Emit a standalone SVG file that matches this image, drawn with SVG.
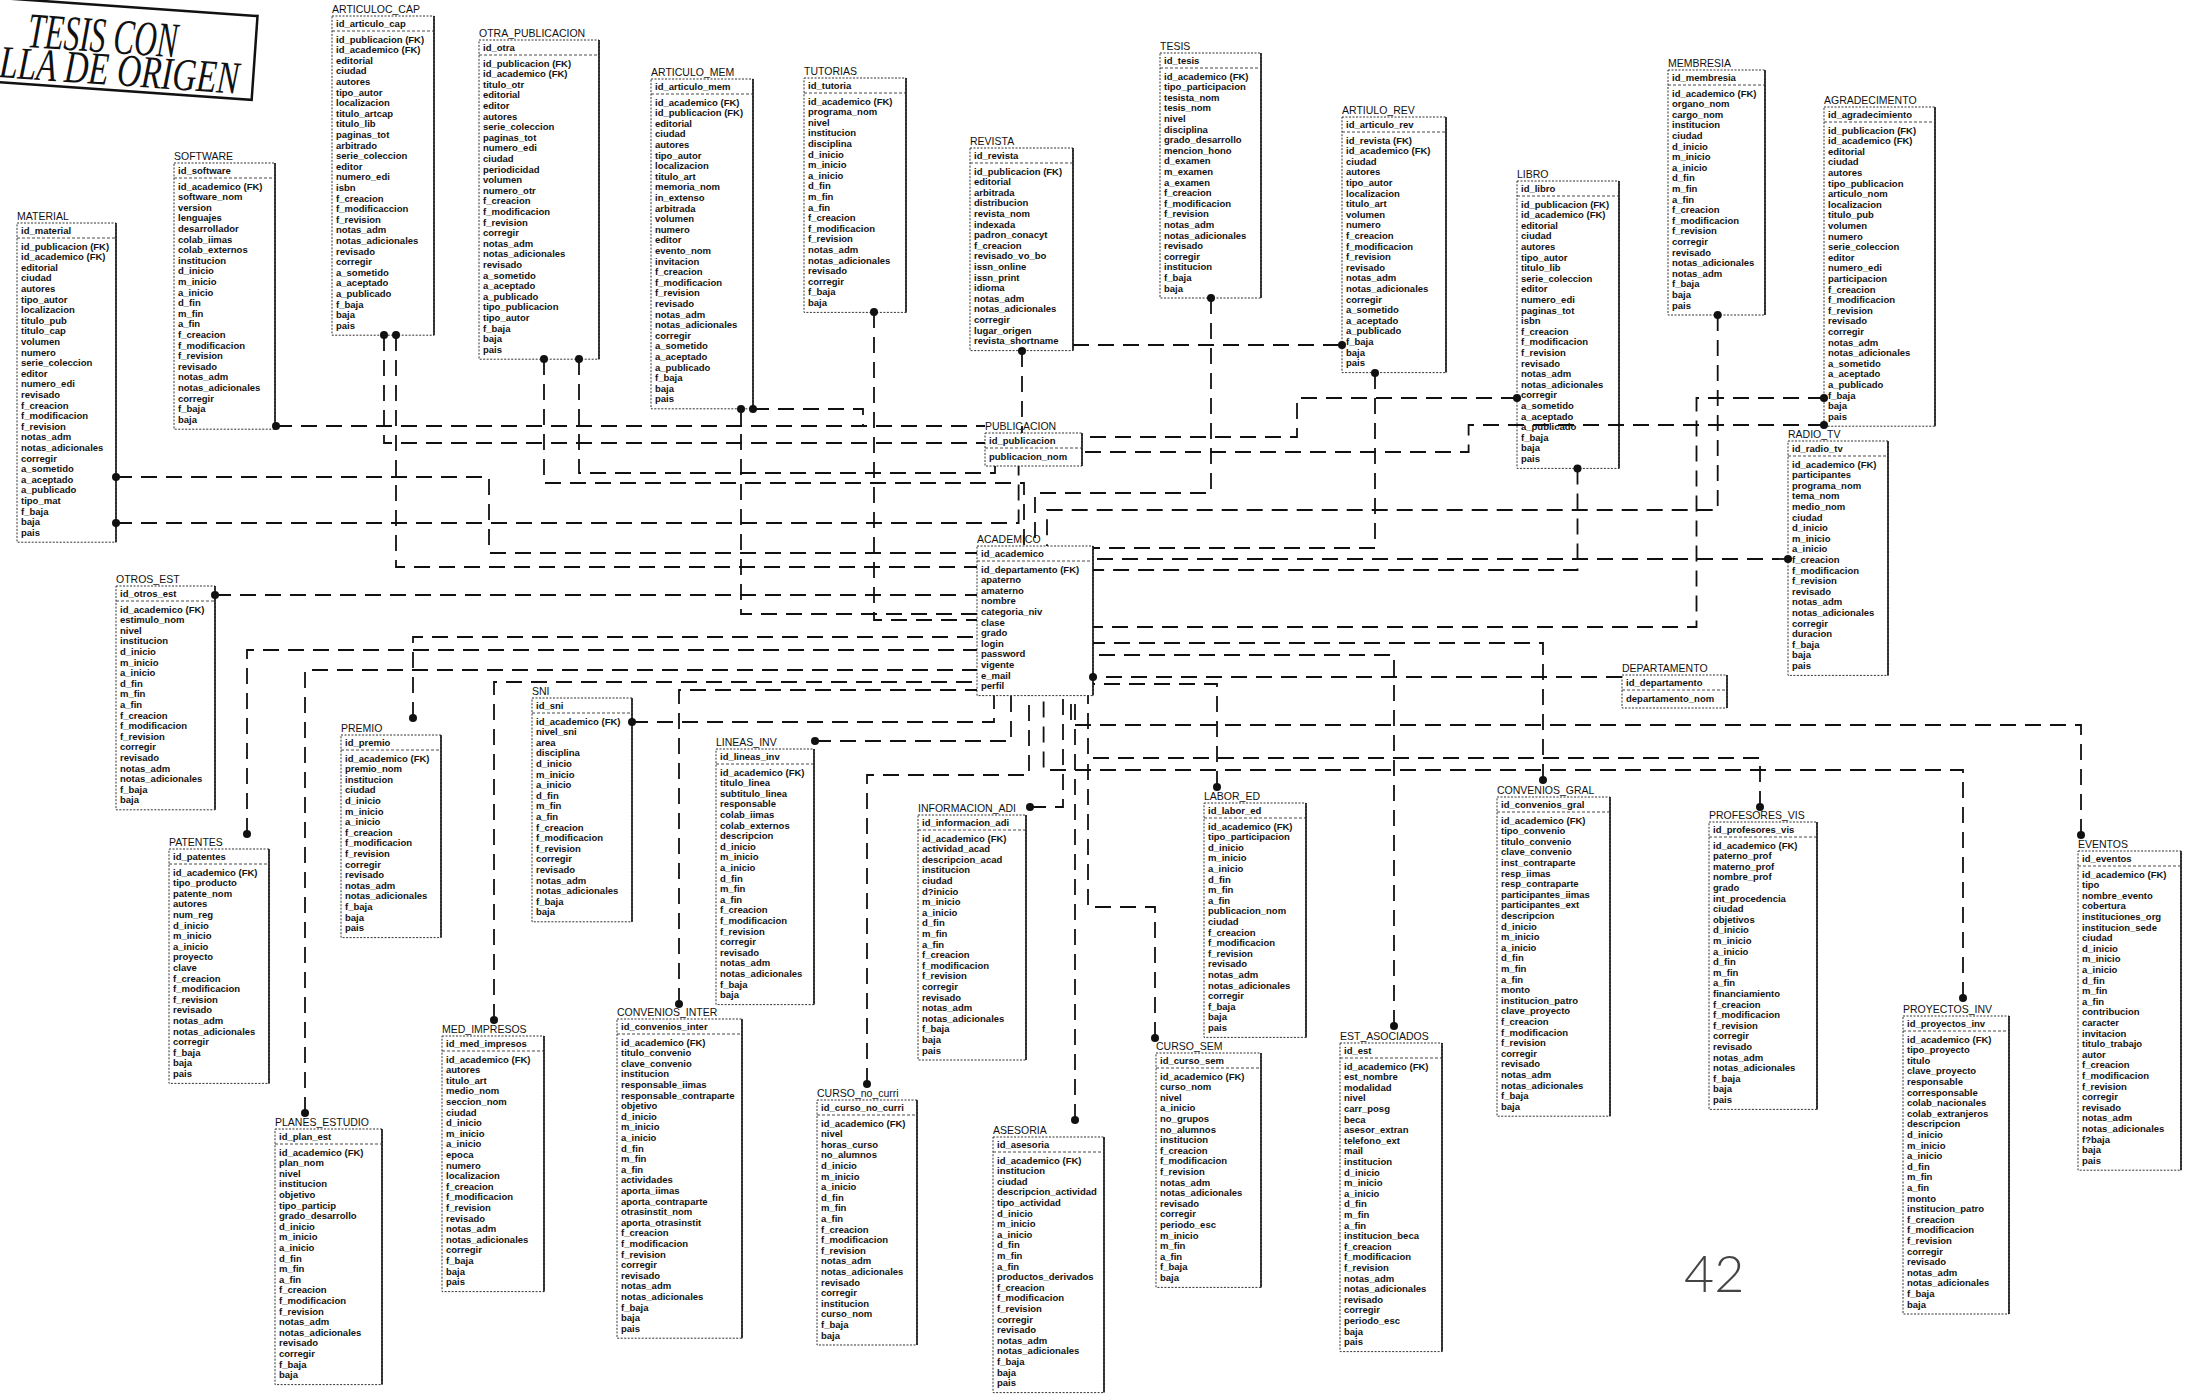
<svg xmlns="http://www.w3.org/2000/svg" width="2194" height="1399" viewBox="0 0 2194 1399">
<style>
.t{font:10.5px "Liberation Sans",Arial,sans-serif;fill:#111}
.k,.a{font:bold 9.5px "Liberation Sans",Arial,sans-serif;fill:#111}
.bx{fill:#fff;stroke:#333;stroke-width:1;stroke-dasharray:2 1.5}
.rb{stroke:#111;stroke-width:1.6;fill:none}
.sp{stroke:#333;stroke-width:0.9;stroke-dasharray:3 2;fill:none}
.c{fill:none;stroke:#111;stroke-width:1.8;stroke-dasharray:16 9}
.d{fill:#111}
.st{font-family:"Liberation Serif","Times New Roman",serif;font-style:italic;fill:#111}
</style>
<rect width="2194" height="1399" fill="#fff"/>
<g id="stamp" transform="rotate(4)">
<polygon points="-12,-2 258,-2 258,82 -12,82" fill="none" stroke="#111" stroke-width="2.5"/>
<text class="st" x="30" y="45" font-size="50" textLength="150" lengthAdjust="spacingAndGlyphs">TESIS CON</text>
<text class="st" x="4" y="77" font-size="46" textLength="240" lengthAdjust="spacingAndGlyphs">LLA DE ORIGEN</text>
</g>
<g id="nodes">
<g id="MATERIAL" transform="translate(17,223)"><rect class="bx" width="99" height="319.2"/><path class="rb" d="M99 0V319.2"/><path class="sp" d="M0 15H99"/><text class="t" y="-3">MATERIAL</text><text class="k" x="4" y="11">id_material</text><text class="a" x="4" y="26.5">id_publicacion (FK)<tspan x="4" dy="10.6">id_academico (FK)</tspan><tspan x="4" dy="10.6">editorial</tspan><tspan x="4" dy="10.6">ciudad</tspan><tspan x="4" dy="10.6">autores</tspan><tspan x="4" dy="10.6">tipo_autor</tspan><tspan x="4" dy="10.6">localizacion</tspan><tspan x="4" dy="10.6">titulo_pub</tspan><tspan x="4" dy="10.6">titulo_cap</tspan><tspan x="4" dy="10.6">volumen</tspan><tspan x="4" dy="10.6">numero</tspan><tspan x="4" dy="10.6">serie_coleccion</tspan><tspan x="4" dy="10.6">editor</tspan><tspan x="4" dy="10.6">numero_edi</tspan><tspan x="4" dy="10.6">revisado</tspan><tspan x="4" dy="10.6">f_creacion</tspan><tspan x="4" dy="10.6">f_modificacion</tspan><tspan x="4" dy="10.6">f_revision</tspan><tspan x="4" dy="10.6">notas_adm</tspan><tspan x="4" dy="10.6">notas_adicionales</tspan><tspan x="4" dy="10.6">corregir</tspan><tspan x="4" dy="10.6">a_sometido</tspan><tspan x="4" dy="10.6">a_aceptado</tspan><tspan x="4" dy="10.6">a_publicado</tspan><tspan x="4" dy="10.6">tipo_mat</tspan><tspan x="4" dy="10.6">f_baja</tspan><tspan x="4" dy="10.6">baja</tspan><tspan x="4" dy="10.6">pais</tspan></text></g>
<g id="SOFTWARE" transform="translate(174,163)"><rect class="bx" width="101" height="266.2"/><path class="rb" d="M101 0V266.2"/><path class="sp" d="M0 15H101"/><text class="t" y="-3">SOFTWARE</text><text class="k" x="4" y="11">id_software</text><text class="a" x="4" y="26.5">id_academico (FK)<tspan x="4" dy="10.6">software_nom</tspan><tspan x="4" dy="10.6">version</tspan><tspan x="4" dy="10.6">lenguajes</tspan><tspan x="4" dy="10.6">desarrollador</tspan><tspan x="4" dy="10.6">colab_iimas</tspan><tspan x="4" dy="10.6">colab_externos</tspan><tspan x="4" dy="10.6">institucion</tspan><tspan x="4" dy="10.6">d_inicio</tspan><tspan x="4" dy="10.6">m_inicio</tspan><tspan x="4" dy="10.6">a_inicio</tspan><tspan x="4" dy="10.6">d_fin</tspan><tspan x="4" dy="10.6">m_fin</tspan><tspan x="4" dy="10.6">a_fin</tspan><tspan x="4" dy="10.6">f_creacion</tspan><tspan x="4" dy="10.6">f_modificacion</tspan><tspan x="4" dy="10.6">f_revision</tspan><tspan x="4" dy="10.6">revisado</tspan><tspan x="4" dy="10.6">notas_adm</tspan><tspan x="4" dy="10.6">notas_adicionales</tspan><tspan x="4" dy="10.6">corregir</tspan><tspan x="4" dy="10.6">f_baja</tspan><tspan x="4" dy="10.6">baja</tspan></text></g>
<g id="ARTICULOC_CAP" transform="translate(332,16)"><rect class="bx" width="102" height="319.2"/><path class="rb" d="M102 0V319.2"/><path class="sp" d="M0 15H102"/><text class="t" y="-3">ARTICULOC_CAP</text><text class="k" x="4" y="11">id_articulo_cap</text><text class="a" x="4" y="26.5">id_publicacion (FK)<tspan x="4" dy="10.6">id_academico (FK)</tspan><tspan x="4" dy="10.6">editorial</tspan><tspan x="4" dy="10.6">ciudad</tspan><tspan x="4" dy="10.6">autores</tspan><tspan x="4" dy="10.6">tipo_autor</tspan><tspan x="4" dy="10.6">localizacion</tspan><tspan x="4" dy="10.6">titulo_artcap</tspan><tspan x="4" dy="10.6">titulo_lib</tspan><tspan x="4" dy="10.6">paginas_tot</tspan><tspan x="4" dy="10.6">arbitrado</tspan><tspan x="4" dy="10.6">serie_coleccion</tspan><tspan x="4" dy="10.6">editor</tspan><tspan x="4" dy="10.6">numero_edi</tspan><tspan x="4" dy="10.6">isbn</tspan><tspan x="4" dy="10.6">f_creacion</tspan><tspan x="4" dy="10.6">f_modificaccion</tspan><tspan x="4" dy="10.6">f_revision</tspan><tspan x="4" dy="10.6">notas_adm</tspan><tspan x="4" dy="10.6">notas_adicionales</tspan><tspan x="4" dy="10.6">revisado</tspan><tspan x="4" dy="10.6">corregir</tspan><tspan x="4" dy="10.6">a_sometido</tspan><tspan x="4" dy="10.6">a_aceptado</tspan><tspan x="4" dy="10.6">a_publicado</tspan><tspan x="4" dy="10.6">f_baja</tspan><tspan x="4" dy="10.6">baja</tspan><tspan x="4" dy="10.6">pais</tspan></text></g>
<g id="OTRA_PUBLICACION" transform="translate(479,40)"><rect class="bx" width="120" height="319.2"/><path class="rb" d="M120 0V319.2"/><path class="sp" d="M0 15H120"/><text class="t" y="-3">OTRA_PUBLICACION</text><text class="k" x="4" y="11">id_otra</text><text class="a" x="4" y="26.5">id_publicacion (FK)<tspan x="4" dy="10.6">id_academico (FK)</tspan><tspan x="4" dy="10.6">titulo_otr</tspan><tspan x="4" dy="10.6">editorial</tspan><tspan x="4" dy="10.6">editor</tspan><tspan x="4" dy="10.6">autores</tspan><tspan x="4" dy="10.6">serie_coleccion</tspan><tspan x="4" dy="10.6">paginas_tot</tspan><tspan x="4" dy="10.6">numero_edi</tspan><tspan x="4" dy="10.6">ciudad</tspan><tspan x="4" dy="10.6">periodicidad</tspan><tspan x="4" dy="10.6">volumen</tspan><tspan x="4" dy="10.6">numero_otr</tspan><tspan x="4" dy="10.6">f_creacion</tspan><tspan x="4" dy="10.6">f_modificacion</tspan><tspan x="4" dy="10.6">f_revision</tspan><tspan x="4" dy="10.6">corregir</tspan><tspan x="4" dy="10.6">notas_adm</tspan><tspan x="4" dy="10.6">notas_adicionales</tspan><tspan x="4" dy="10.6">revisado</tspan><tspan x="4" dy="10.6">a_sometido</tspan><tspan x="4" dy="10.6">a_aceptado</tspan><tspan x="4" dy="10.6">a_publicado</tspan><tspan x="4" dy="10.6">tipo_publicacion</tspan><tspan x="4" dy="10.6">tipo_autor</tspan><tspan x="4" dy="10.6">f_baja</tspan><tspan x="4" dy="10.6">baja</tspan><tspan x="4" dy="10.6">pais</tspan></text></g>
<g id="ARTICULO_MEM" transform="translate(651,79)"><rect class="bx" width="102" height="329.8"/><path class="rb" d="M102 0V329.8"/><path class="sp" d="M0 15H102"/><text class="t" y="-3">ARTICULO_MEM</text><text class="k" x="4" y="11">id_articulo_mem</text><text class="a" x="4" y="26.5">id_academico (FK)<tspan x="4" dy="10.6">id_publicacion (FK)</tspan><tspan x="4" dy="10.6">editorial</tspan><tspan x="4" dy="10.6">ciudad</tspan><tspan x="4" dy="10.6">autores</tspan><tspan x="4" dy="10.6">tipo_autor</tspan><tspan x="4" dy="10.6">localizacion</tspan><tspan x="4" dy="10.6">titulo_art</tspan><tspan x="4" dy="10.6">memoria_nom</tspan><tspan x="4" dy="10.6">in_extenso</tspan><tspan x="4" dy="10.6">arbitrada</tspan><tspan x="4" dy="10.6">volumen</tspan><tspan x="4" dy="10.6">numero</tspan><tspan x="4" dy="10.6">editor</tspan><tspan x="4" dy="10.6">evento_nom</tspan><tspan x="4" dy="10.6">invitacion</tspan><tspan x="4" dy="10.6">f_creacion</tspan><tspan x="4" dy="10.6">f_modificacion</tspan><tspan x="4" dy="10.6">f_revision</tspan><tspan x="4" dy="10.6">revisado</tspan><tspan x="4" dy="10.6">notas_adm</tspan><tspan x="4" dy="10.6">notas_adicionales</tspan><tspan x="4" dy="10.6">corregir</tspan><tspan x="4" dy="10.6">a_sometido</tspan><tspan x="4" dy="10.6">a_aceptado</tspan><tspan x="4" dy="10.6">a_publicado</tspan><tspan x="4" dy="10.6">f_baja</tspan><tspan x="4" dy="10.6">baja</tspan><tspan x="4" dy="10.6">pais</tspan></text></g>
<g id="TUTORIAS" transform="translate(804,78)"><rect class="bx" width="102" height="234.4"/><path class="rb" d="M102 0V234.4"/><path class="sp" d="M0 15H102"/><text class="t" y="-3">TUTORIAS</text><text class="k" x="4" y="11">id_tutoria</text><text class="a" x="4" y="26.5">id_academico (FK)<tspan x="4" dy="10.6">programa_nom</tspan><tspan x="4" dy="10.6">nivel</tspan><tspan x="4" dy="10.6">institucion</tspan><tspan x="4" dy="10.6">disciplina</tspan><tspan x="4" dy="10.6">d_inicio</tspan><tspan x="4" dy="10.6">m_inicio</tspan><tspan x="4" dy="10.6">a_inicio</tspan><tspan x="4" dy="10.6">d_fin</tspan><tspan x="4" dy="10.6">m_fin</tspan><tspan x="4" dy="10.6">a_fin</tspan><tspan x="4" dy="10.6">f_creacion</tspan><tspan x="4" dy="10.6">f_modificacion</tspan><tspan x="4" dy="10.6">f_revision</tspan><tspan x="4" dy="10.6">notas_adm</tspan><tspan x="4" dy="10.6">notas_adicionales</tspan><tspan x="4" dy="10.6">revisado</tspan><tspan x="4" dy="10.6">corregir</tspan><tspan x="4" dy="10.6">f_baja</tspan><tspan x="4" dy="10.6">baja</tspan></text></g>
<g id="REVISTA" transform="translate(970,148)"><rect class="bx" width="103" height="202.6"/><path class="rb" d="M103 0V202.6"/><path class="sp" d="M0 15H103"/><text class="t" y="-3">REVISTA</text><text class="k" x="4" y="11">id_revista</text><text class="a" x="4" y="26.5">id_publicacion (FK)<tspan x="4" dy="10.6">editorial</tspan><tspan x="4" dy="10.6">arbitrada</tspan><tspan x="4" dy="10.6">distribucion</tspan><tspan x="4" dy="10.6">revista_nom</tspan><tspan x="4" dy="10.6">indexada</tspan><tspan x="4" dy="10.6">padron_conacyt</tspan><tspan x="4" dy="10.6">f_creacion</tspan><tspan x="4" dy="10.6">revisado_vo_bo</tspan><tspan x="4" dy="10.6">issn_online</tspan><tspan x="4" dy="10.6">issn_print</tspan><tspan x="4" dy="10.6">idioma</tspan><tspan x="4" dy="10.6">notas_adm</tspan><tspan x="4" dy="10.6">notas_adicionales</tspan><tspan x="4" dy="10.6">corregir</tspan><tspan x="4" dy="10.6">lugar_origen</tspan><tspan x="4" dy="10.6">revista_shortname</tspan></text></g>
<g id="PUBLICACION" transform="translate(985,433)"><rect class="bx" width="97" height="33"/><path class="rb" d="M97 0V33"/><path class="sp" d="M0 15H97"/><text class="t" y="-3">PUBLICACION</text><text class="k" x="4" y="11">id_publicacion</text><text class="a" x="4" y="26.5">publicacion_nom</text></g>
<g id="TESIS" transform="translate(1160,53)"><rect class="bx" width="101" height="245"/><path class="rb" d="M101 0V245"/><path class="sp" d="M0 15H101"/><text class="t" y="-3">TESIS</text><text class="k" x="4" y="11">id_tesis</text><text class="a" x="4" y="26.5">id_academico (FK)<tspan x="4" dy="10.6">tipo_participacion</tspan><tspan x="4" dy="10.6">tesista_nom</tspan><tspan x="4" dy="10.6">tesis_nom</tspan><tspan x="4" dy="10.6">nivel</tspan><tspan x="4" dy="10.6">disciplina</tspan><tspan x="4" dy="10.6">grado_desarrollo</tspan><tspan x="4" dy="10.6">mencion_hono</tspan><tspan x="4" dy="10.6">d_examen</tspan><tspan x="4" dy="10.6">m_examen</tspan><tspan x="4" dy="10.6">a_examen</tspan><tspan x="4" dy="10.6">f_creacion</tspan><tspan x="4" dy="10.6">f_modificacion</tspan><tspan x="4" dy="10.6">f_revision</tspan><tspan x="4" dy="10.6">notas_adm</tspan><tspan x="4" dy="10.6">notas_adicionales</tspan><tspan x="4" dy="10.6">revisado</tspan><tspan x="4" dy="10.6">corregir</tspan><tspan x="4" dy="10.6">institucion</tspan><tspan x="4" dy="10.6">f_baja</tspan><tspan x="4" dy="10.6">baja</tspan></text></g>
<g id="ARTIULO_REV" transform="translate(1342,117)"><rect class="bx" width="104" height="255.6"/><path class="rb" d="M104 0V255.6"/><path class="sp" d="M0 15H104"/><text class="t" y="-3">ARTIULO_REV</text><text class="k" x="4" y="11">id_articulo_rev</text><text class="a" x="4" y="26.5">id_revista (FK)<tspan x="4" dy="10.6">id_academico (FK)</tspan><tspan x="4" dy="10.6">ciudad</tspan><tspan x="4" dy="10.6">autores</tspan><tspan x="4" dy="10.6">tipo_autor</tspan><tspan x="4" dy="10.6">localizacion</tspan><tspan x="4" dy="10.6">titulo_art</tspan><tspan x="4" dy="10.6">volumen</tspan><tspan x="4" dy="10.6">numero</tspan><tspan x="4" dy="10.6">f_creacion</tspan><tspan x="4" dy="10.6">f_modificacion</tspan><tspan x="4" dy="10.6">f_revision</tspan><tspan x="4" dy="10.6">revisado</tspan><tspan x="4" dy="10.6">notas_adm</tspan><tspan x="4" dy="10.6">notas_adicionales</tspan><tspan x="4" dy="10.6">corregir</tspan><tspan x="4" dy="10.6">a_sometido</tspan><tspan x="4" dy="10.6">a_aceptado</tspan><tspan x="4" dy="10.6">a_publicado</tspan><tspan x="4" dy="10.6">f_baja</tspan><tspan x="4" dy="10.6">baja</tspan><tspan x="4" dy="10.6">pais</tspan></text></g>
<g id="LIBRO" transform="translate(1517,181)"><rect class="bx" width="102" height="287.4"/><path class="rb" d="M102 0V287.4"/><path class="sp" d="M0 15H102"/><text class="t" y="-3">LIBRO</text><text class="k" x="4" y="11">id_libro</text><text class="a" x="4" y="26.5">id_publicacion (FK)<tspan x="4" dy="10.6">id_academico (FK)</tspan><tspan x="4" dy="10.6">editorial</tspan><tspan x="4" dy="10.6">ciudad</tspan><tspan x="4" dy="10.6">autores</tspan><tspan x="4" dy="10.6">tipo_autor</tspan><tspan x="4" dy="10.6">titulo_lib</tspan><tspan x="4" dy="10.6">serie_coleccion</tspan><tspan x="4" dy="10.6">editor</tspan><tspan x="4" dy="10.6">numero_edi</tspan><tspan x="4" dy="10.6">paginas_tot</tspan><tspan x="4" dy="10.6">isbn</tspan><tspan x="4" dy="10.6">f_creacion</tspan><tspan x="4" dy="10.6">f_modificacion</tspan><tspan x="4" dy="10.6">f_revision</tspan><tspan x="4" dy="10.6">revisado</tspan><tspan x="4" dy="10.6">notas_adm</tspan><tspan x="4" dy="10.6">notas_adicionales</tspan><tspan x="4" dy="10.6">corregir</tspan><tspan x="4" dy="10.6">a_sometido</tspan><tspan x="4" dy="10.6">a_aceptado</tspan><tspan x="4" dy="10.6">a_publicado</tspan><tspan x="4" dy="10.6">f_baja</tspan><tspan x="4" dy="10.6">baja</tspan><tspan x="4" dy="10.6">pais</tspan></text></g>
<g id="MEMBRESIA" transform="translate(1668,70)"><rect class="bx" width="97" height="245"/><path class="rb" d="M97 0V245"/><path class="sp" d="M0 15H97"/><text class="t" y="-3">MEMBRESIA</text><text class="k" x="4" y="11">id_membresia</text><text class="a" x="4" y="26.5">id_academico (FK)<tspan x="4" dy="10.6">organo_nom</tspan><tspan x="4" dy="10.6">cargo_nom</tspan><tspan x="4" dy="10.6">institucion</tspan><tspan x="4" dy="10.6">ciudad</tspan><tspan x="4" dy="10.6">d_inicio</tspan><tspan x="4" dy="10.6">m_inicio</tspan><tspan x="4" dy="10.6">a_inicio</tspan><tspan x="4" dy="10.6">d_fin</tspan><tspan x="4" dy="10.6">m_fin</tspan><tspan x="4" dy="10.6">a_fin</tspan><tspan x="4" dy="10.6">f_creacion</tspan><tspan x="4" dy="10.6">f_modificacion</tspan><tspan x="4" dy="10.6">f_revision</tspan><tspan x="4" dy="10.6">corregir</tspan><tspan x="4" dy="10.6">revisado</tspan><tspan x="4" dy="10.6">notas_adicionales</tspan><tspan x="4" dy="10.6">notas_adm</tspan><tspan x="4" dy="10.6">f_baja</tspan><tspan x="4" dy="10.6">baja</tspan><tspan x="4" dy="10.6">pais</tspan></text></g>
<g id="AGRADECIMENTO" transform="translate(1824,107)"><rect class="bx" width="111" height="319.2"/><path class="rb" d="M111 0V319.2"/><path class="sp" d="M0 15H111"/><text class="t" y="-3">AGRADECIMENTO</text><text class="k" x="4" y="11">id_agradecimiento</text><text class="a" x="4" y="26.5">id_publicacion (FK)<tspan x="4" dy="10.6">id_academico (FK)</tspan><tspan x="4" dy="10.6">editorial</tspan><tspan x="4" dy="10.6">ciudad</tspan><tspan x="4" dy="10.6">autores</tspan><tspan x="4" dy="10.6">tipo_publicacion</tspan><tspan x="4" dy="10.6">articulo_nom</tspan><tspan x="4" dy="10.6">localizacion</tspan><tspan x="4" dy="10.6">titulo_pub</tspan><tspan x="4" dy="10.6">volumen</tspan><tspan x="4" dy="10.6">numero</tspan><tspan x="4" dy="10.6">serie_coleccion</tspan><tspan x="4" dy="10.6">editor</tspan><tspan x="4" dy="10.6">numero_edi</tspan><tspan x="4" dy="10.6">participacion</tspan><tspan x="4" dy="10.6">f_creacion</tspan><tspan x="4" dy="10.6">f_modificacion</tspan><tspan x="4" dy="10.6">f_revision</tspan><tspan x="4" dy="10.6">revisado</tspan><tspan x="4" dy="10.6">corregir</tspan><tspan x="4" dy="10.6">notas_adm</tspan><tspan x="4" dy="10.6">notas_adicionales</tspan><tspan x="4" dy="10.6">a_sometido</tspan><tspan x="4" dy="10.6">a_aceptado</tspan><tspan x="4" dy="10.6">a_publicado</tspan><tspan x="4" dy="10.6">f_baja</tspan><tspan x="4" dy="10.6">baja</tspan><tspan x="4" dy="10.6">pais</tspan></text></g>
<g id="RADIO_TV" transform="translate(1788,441)"><rect class="bx" width="100" height="234.4"/><path class="rb" d="M100 0V234.4"/><path class="sp" d="M0 15H100"/><text class="t" y="-3">RADIO_TV</text><text class="k" x="4" y="11">id_radio_tv</text><text class="a" x="4" y="26.5">id_academico (FK)<tspan x="4" dy="10.6">participantes</tspan><tspan x="4" dy="10.6">programa_nom</tspan><tspan x="4" dy="10.6">tema_nom</tspan><tspan x="4" dy="10.6">medio_nom</tspan><tspan x="4" dy="10.6">ciudad</tspan><tspan x="4" dy="10.6">d_inicio</tspan><tspan x="4" dy="10.6">m_inicio</tspan><tspan x="4" dy="10.6">a_inicio</tspan><tspan x="4" dy="10.6">f_creacion</tspan><tspan x="4" dy="10.6">f_modificacion</tspan><tspan x="4" dy="10.6">f_revision</tspan><tspan x="4" dy="10.6">revisado</tspan><tspan x="4" dy="10.6">notas_adm</tspan><tspan x="4" dy="10.6">notas_adicionales</tspan><tspan x="4" dy="10.6">corregir</tspan><tspan x="4" dy="10.6">duracion</tspan><tspan x="4" dy="10.6">f_baja</tspan><tspan x="4" dy="10.6">baja</tspan><tspan x="4" dy="10.6">pais</tspan></text></g>
<g id="ACADEMICO" transform="translate(977,546)"><rect class="bx" width="116" height="149.6"/><path class="rb" d="M116 0V149.6"/><path class="sp" d="M0 15H116"/><text class="t" y="-3">ACADEMICO</text><text class="k" x="4" y="11">id_academico</text><text class="a" x="4" y="26.5">id_departamento (FK)<tspan x="4" dy="10.6">apaterno</tspan><tspan x="4" dy="10.6">amaterno</tspan><tspan x="4" dy="10.6">nombre</tspan><tspan x="4" dy="10.6">categoria_niv</tspan><tspan x="4" dy="10.6">clase</tspan><tspan x="4" dy="10.6">grado</tspan><tspan x="4" dy="10.6">login</tspan><tspan x="4" dy="10.6">password</tspan><tspan x="4" dy="10.6">vigente</tspan><tspan x="4" dy="10.6">e_mail</tspan><tspan x="4" dy="10.6">perfil</tspan></text></g>
<g id="DEPARTAMENTO" transform="translate(1622,675)"><rect class="bx" width="105" height="33"/><path class="rb" d="M105 0V33"/><path class="sp" d="M0 15H105"/><text class="t" y="-3">DEPARTAMENTO</text><text class="k" x="4" y="11">id_departamento</text><text class="a" x="4" y="26.5">departamento_nom</text></g>
<g id="OTROS_EST" transform="translate(116,586)"><rect class="bx" width="99" height="223.8"/><path class="rb" d="M99 0V223.8"/><path class="sp" d="M0 15H99"/><text class="t" y="-3">OTROS_EST</text><text class="k" x="4" y="11">id_otros_est</text><text class="a" x="4" y="26.5">id_academico (FK)<tspan x="4" dy="10.6">estimulo_nom</tspan><tspan x="4" dy="10.6">nivel</tspan><tspan x="4" dy="10.6">institucion</tspan><tspan x="4" dy="10.6">d_inicio</tspan><tspan x="4" dy="10.6">m_inicio</tspan><tspan x="4" dy="10.6">a_inicio</tspan><tspan x="4" dy="10.6">d_fin</tspan><tspan x="4" dy="10.6">m_fin</tspan><tspan x="4" dy="10.6">a_fin</tspan><tspan x="4" dy="10.6">f_creacion</tspan><tspan x="4" dy="10.6">f_modificacion</tspan><tspan x="4" dy="10.6">f_revision</tspan><tspan x="4" dy="10.6">corregir</tspan><tspan x="4" dy="10.6">revisado</tspan><tspan x="4" dy="10.6">notas_adm</tspan><tspan x="4" dy="10.6">notas_adicionales</tspan><tspan x="4" dy="10.6">f_baja</tspan><tspan x="4" dy="10.6">baja</tspan></text></g>
<g id="PATENTES" transform="translate(169,849)"><rect class="bx" width="100" height="234.4"/><path class="rb" d="M100 0V234.4"/><path class="sp" d="M0 15H100"/><text class="t" y="-3">PATENTES</text><text class="k" x="4" y="11">id_patentes</text><text class="a" x="4" y="26.5">id_academico (FK)<tspan x="4" dy="10.6">tipo_producto</tspan><tspan x="4" dy="10.6">patente_nom</tspan><tspan x="4" dy="10.6">autores</tspan><tspan x="4" dy="10.6">num_reg</tspan><tspan x="4" dy="10.6">d_inicio</tspan><tspan x="4" dy="10.6">m_inicio</tspan><tspan x="4" dy="10.6">a_inicio</tspan><tspan x="4" dy="10.6">proyecto</tspan><tspan x="4" dy="10.6">clave</tspan><tspan x="4" dy="10.6">f_creacion</tspan><tspan x="4" dy="10.6">f_modificacion</tspan><tspan x="4" dy="10.6">f_revision</tspan><tspan x="4" dy="10.6">revisado</tspan><tspan x="4" dy="10.6">notas_adm</tspan><tspan x="4" dy="10.6">notas_adicionales</tspan><tspan x="4" dy="10.6">corregir</tspan><tspan x="4" dy="10.6">f_baja</tspan><tspan x="4" dy="10.6">baja</tspan><tspan x="4" dy="10.6">pais</tspan></text></g>
<g id="PREMIO" transform="translate(341,735)"><rect class="bx" width="100" height="202.6"/><path class="rb" d="M100 0V202.6"/><path class="sp" d="M0 15H100"/><text class="t" y="-3">PREMIO</text><text class="k" x="4" y="11">id_premio</text><text class="a" x="4" y="26.5">id_academico (FK)<tspan x="4" dy="10.6">premio_nom</tspan><tspan x="4" dy="10.6">institucion</tspan><tspan x="4" dy="10.6">ciudad</tspan><tspan x="4" dy="10.6">d_inicio</tspan><tspan x="4" dy="10.6">m_inicio</tspan><tspan x="4" dy="10.6">a_inicio</tspan><tspan x="4" dy="10.6">f_creacion</tspan><tspan x="4" dy="10.6">f_modificacion</tspan><tspan x="4" dy="10.6">f_revision</tspan><tspan x="4" dy="10.6">corregir</tspan><tspan x="4" dy="10.6">revisado</tspan><tspan x="4" dy="10.6">notas_adm</tspan><tspan x="4" dy="10.6">notas_adicionales</tspan><tspan x="4" dy="10.6">f_baja</tspan><tspan x="4" dy="10.6">baja</tspan><tspan x="4" dy="10.6">pais</tspan></text></g>
<g id="SNI" transform="translate(532,698)"><rect class="bx" width="100" height="223.8"/><path class="rb" d="M100 0V223.8"/><path class="sp" d="M0 15H100"/><text class="t" y="-3">SNI</text><text class="k" x="4" y="11">id_sni</text><text class="a" x="4" y="26.5">id_academico (FK)<tspan x="4" dy="10.6">nivel_sni</tspan><tspan x="4" dy="10.6">area</tspan><tspan x="4" dy="10.6">disciplina</tspan><tspan x="4" dy="10.6">d_inicio</tspan><tspan x="4" dy="10.6">m_inicio</tspan><tspan x="4" dy="10.6">a_inicio</tspan><tspan x="4" dy="10.6">d_fin</tspan><tspan x="4" dy="10.6">m_fin</tspan><tspan x="4" dy="10.6">a_fin</tspan><tspan x="4" dy="10.6">f_creacion</tspan><tspan x="4" dy="10.6">f_modificacion</tspan><tspan x="4" dy="10.6">f_revision</tspan><tspan x="4" dy="10.6">corregir</tspan><tspan x="4" dy="10.6">revisado</tspan><tspan x="4" dy="10.6">notas_adm</tspan><tspan x="4" dy="10.6">notas_adicionales</tspan><tspan x="4" dy="10.6">f_baja</tspan><tspan x="4" dy="10.6">baja</tspan></text></g>
<g id="LINEAS_INV" transform="translate(716,749)"><rect class="bx" width="98" height="255.6"/><path class="rb" d="M98 0V255.6"/><path class="sp" d="M0 15H98"/><text class="t" y="-3">LINEAS_INV</text><text class="k" x="4" y="11">id_lineas_inv</text><text class="a" x="4" y="26.5">id_academico (FK)<tspan x="4" dy="10.6">titulo_linea</tspan><tspan x="4" dy="10.6">subtitulo_linea</tspan><tspan x="4" dy="10.6">responsable</tspan><tspan x="4" dy="10.6">colab_iimas</tspan><tspan x="4" dy="10.6">colab_externos</tspan><tspan x="4" dy="10.6">descripcion</tspan><tspan x="4" dy="10.6">d_inicio</tspan><tspan x="4" dy="10.6">m_inicio</tspan><tspan x="4" dy="10.6">a_inicio</tspan><tspan x="4" dy="10.6">d_fin</tspan><tspan x="4" dy="10.6">m_fin</tspan><tspan x="4" dy="10.6">a_fin</tspan><tspan x="4" dy="10.6">f_creacion</tspan><tspan x="4" dy="10.6">f_modificacion</tspan><tspan x="4" dy="10.6">f_revision</tspan><tspan x="4" dy="10.6">corregir</tspan><tspan x="4" dy="10.6">revisado</tspan><tspan x="4" dy="10.6">notas_adm</tspan><tspan x="4" dy="10.6">notas_adicionales</tspan><tspan x="4" dy="10.6">f_baja</tspan><tspan x="4" dy="10.6">baja</tspan></text></g>
<g id="INFORMACION_ADI" transform="translate(918,815)"><rect class="bx" width="108" height="245"/><path class="rb" d="M108 0V245"/><path class="sp" d="M0 15H108"/><text class="t" y="-3">INFORMACION_ADI</text><text class="k" x="4" y="11">id_informacion_adi</text><text class="a" x="4" y="26.5">id_academico (FK)<tspan x="4" dy="10.6">actividad_acad</tspan><tspan x="4" dy="10.6">descripcion_acad</tspan><tspan x="4" dy="10.6">institucion</tspan><tspan x="4" dy="10.6">ciudad</tspan><tspan x="4" dy="10.6">d?inicio</tspan><tspan x="4" dy="10.6">m_inicio</tspan><tspan x="4" dy="10.6">a_inicio</tspan><tspan x="4" dy="10.6">d_fin</tspan><tspan x="4" dy="10.6">m_fin</tspan><tspan x="4" dy="10.6">a_fin</tspan><tspan x="4" dy="10.6">f_creacion</tspan><tspan x="4" dy="10.6">f_modificacion</tspan><tspan x="4" dy="10.6">f_revision</tspan><tspan x="4" dy="10.6">corregir</tspan><tspan x="4" dy="10.6">revisado</tspan><tspan x="4" dy="10.6">notas_adm</tspan><tspan x="4" dy="10.6">notas_adicionales</tspan><tspan x="4" dy="10.6">f_baja</tspan><tspan x="4" dy="10.6">baja</tspan><tspan x="4" dy="10.6">pais</tspan></text></g>
<g id="LABOR_ED" transform="translate(1204,803)"><rect class="bx" width="102" height="234.4"/><path class="rb" d="M102 0V234.4"/><path class="sp" d="M0 15H102"/><text class="t" y="-3">LABOR_ED</text><text class="k" x="4" y="11">id_labor_ed</text><text class="a" x="4" y="26.5">id_academico (FK)<tspan x="4" dy="10.6">tipo_participacion</tspan><tspan x="4" dy="10.6">d_inicio</tspan><tspan x="4" dy="10.6">m_inicio</tspan><tspan x="4" dy="10.6">a_inicio</tspan><tspan x="4" dy="10.6">d_fin</tspan><tspan x="4" dy="10.6">m_fin</tspan><tspan x="4" dy="10.6">a_fin</tspan><tspan x="4" dy="10.6">publicacion_nom</tspan><tspan x="4" dy="10.6">ciudad</tspan><tspan x="4" dy="10.6">f_creacion</tspan><tspan x="4" dy="10.6">f_modificacion</tspan><tspan x="4" dy="10.6">f_revision</tspan><tspan x="4" dy="10.6">revisado</tspan><tspan x="4" dy="10.6">notas_adm</tspan><tspan x="4" dy="10.6">notas_adicionales</tspan><tspan x="4" dy="10.6">corregir</tspan><tspan x="4" dy="10.6">f_baja</tspan><tspan x="4" dy="10.6">baja</tspan><tspan x="4" dy="10.6">pais</tspan></text></g>
<g id="CONVENIOS_GRAL" transform="translate(1497,797)"><rect class="bx" width="113" height="319.2"/><path class="rb" d="M113 0V319.2"/><path class="sp" d="M0 15H113"/><text class="t" y="-3">CONVENIOS_GRAL</text><text class="k" x="4" y="11">id_convenios_gral</text><text class="a" x="4" y="26.5">id_academico (FK)<tspan x="4" dy="10.6">tipo_convenio</tspan><tspan x="4" dy="10.6">titulo_convenio</tspan><tspan x="4" dy="10.6">clave_convenio</tspan><tspan x="4" dy="10.6">inst_contraparte</tspan><tspan x="4" dy="10.6">resp_iimas</tspan><tspan x="4" dy="10.6">resp_contraparte</tspan><tspan x="4" dy="10.6">participantes_iimas</tspan><tspan x="4" dy="10.6">participantes_ext</tspan><tspan x="4" dy="10.6">descripcion</tspan><tspan x="4" dy="10.6">d_inicio</tspan><tspan x="4" dy="10.6">m_inicio</tspan><tspan x="4" dy="10.6">a_inicio</tspan><tspan x="4" dy="10.6">d_fin</tspan><tspan x="4" dy="10.6">m_fin</tspan><tspan x="4" dy="10.6">a_fin</tspan><tspan x="4" dy="10.6">monto</tspan><tspan x="4" dy="10.6">institucion_patro</tspan><tspan x="4" dy="10.6">clave_proyecto</tspan><tspan x="4" dy="10.6">f_creacion</tspan><tspan x="4" dy="10.6">f_modificacion</tspan><tspan x="4" dy="10.6">f_revision</tspan><tspan x="4" dy="10.6">corregir</tspan><tspan x="4" dy="10.6">revisado</tspan><tspan x="4" dy="10.6">notas_adm</tspan><tspan x="4" dy="10.6">notas_adicionales</tspan><tspan x="4" dy="10.6">f_baja</tspan><tspan x="4" dy="10.6">baja</tspan></text></g>
<g id="PROFESORES_VIS" transform="translate(1709,822)"><rect class="bx" width="108" height="287.4"/><path class="rb" d="M108 0V287.4"/><path class="sp" d="M0 15H108"/><text class="t" y="-3">PROFESORES_VIS</text><text class="k" x="4" y="11">id_profesores_vis</text><text class="a" x="4" y="26.5">id_academico (FK)<tspan x="4" dy="10.6">paterno_prof</tspan><tspan x="4" dy="10.6">materno_prof</tspan><tspan x="4" dy="10.6">nombre_prof</tspan><tspan x="4" dy="10.6">grado</tspan><tspan x="4" dy="10.6">int_procedencia</tspan><tspan x="4" dy="10.6">ciudad</tspan><tspan x="4" dy="10.6">objetivos</tspan><tspan x="4" dy="10.6">d_inicio</tspan><tspan x="4" dy="10.6">m_inicio</tspan><tspan x="4" dy="10.6">a_inicio</tspan><tspan x="4" dy="10.6">d_fin</tspan><tspan x="4" dy="10.6">m_fin</tspan><tspan x="4" dy="10.6">a_fin</tspan><tspan x="4" dy="10.6">financiamiento</tspan><tspan x="4" dy="10.6">f_creacion</tspan><tspan x="4" dy="10.6">f_modificacion</tspan><tspan x="4" dy="10.6">f_revision</tspan><tspan x="4" dy="10.6">corregir</tspan><tspan x="4" dy="10.6">revisado</tspan><tspan x="4" dy="10.6">notas_adm</tspan><tspan x="4" dy="10.6">notas_adicionales</tspan><tspan x="4" dy="10.6">f_baja</tspan><tspan x="4" dy="10.6">baja</tspan><tspan x="4" dy="10.6">pais</tspan></text></g>
<g id="EVENTOS" transform="translate(2078,851)"><rect class="bx" width="103" height="319.2"/><path class="rb" d="M103 0V319.2"/><path class="sp" d="M0 15H103"/><text class="t" y="-3">EVENTOS</text><text class="k" x="4" y="11">id_eventos</text><text class="a" x="4" y="26.5">id_academico (FK)<tspan x="4" dy="10.6">tipo</tspan><tspan x="4" dy="10.6">nombre_evento</tspan><tspan x="4" dy="10.6">cobertura</tspan><tspan x="4" dy="10.6">instituciones_org</tspan><tspan x="4" dy="10.6">institucion_sede</tspan><tspan x="4" dy="10.6">ciudad</tspan><tspan x="4" dy="10.6">d_inicio</tspan><tspan x="4" dy="10.6">m_inicio</tspan><tspan x="4" dy="10.6">a_inicio</tspan><tspan x="4" dy="10.6">d_fin</tspan><tspan x="4" dy="10.6">m_fin</tspan><tspan x="4" dy="10.6">a_fin</tspan><tspan x="4" dy="10.6">contribucion</tspan><tspan x="4" dy="10.6">caracter</tspan><tspan x="4" dy="10.6">invitacion</tspan><tspan x="4" dy="10.6">titulo_trabajo</tspan><tspan x="4" dy="10.6">autor</tspan><tspan x="4" dy="10.6">f_creacion</tspan><tspan x="4" dy="10.6">f_modificacion</tspan><tspan x="4" dy="10.6">f_revision</tspan><tspan x="4" dy="10.6">corregir</tspan><tspan x="4" dy="10.6">revisado</tspan><tspan x="4" dy="10.6">notas_adm</tspan><tspan x="4" dy="10.6">notas_adicionales</tspan><tspan x="4" dy="10.6">f?baja</tspan><tspan x="4" dy="10.6">baja</tspan><tspan x="4" dy="10.6">pais</tspan></text></g>
<g id="PROYECTOS_INV" transform="translate(1903,1016)"><rect class="bx" width="106" height="298"/><path class="rb" d="M106 0V298"/><path class="sp" d="M0 15H106"/><text class="t" y="-3">PROYECTOS_INV</text><text class="k" x="4" y="11">id_proyectos_inv</text><text class="a" x="4" y="26.5">id_academico (FK)<tspan x="4" dy="10.6">tipo_proyecto</tspan><tspan x="4" dy="10.6">titulo</tspan><tspan x="4" dy="10.6">clave_proyecto</tspan><tspan x="4" dy="10.6">responsable</tspan><tspan x="4" dy="10.6">corresponsable</tspan><tspan x="4" dy="10.6">colab_nacionales</tspan><tspan x="4" dy="10.6">colab_extranjeros</tspan><tspan x="4" dy="10.6">descripcion</tspan><tspan x="4" dy="10.6">d_inicio</tspan><tspan x="4" dy="10.6">m_inicio</tspan><tspan x="4" dy="10.6">a_inicio</tspan><tspan x="4" dy="10.6">d_fin</tspan><tspan x="4" dy="10.6">m_fin</tspan><tspan x="4" dy="10.6">a_fin</tspan><tspan x="4" dy="10.6">monto</tspan><tspan x="4" dy="10.6">institucion_patro</tspan><tspan x="4" dy="10.6">f_creacion</tspan><tspan x="4" dy="10.6">f_modificacion</tspan><tspan x="4" dy="10.6">f_revision</tspan><tspan x="4" dy="10.6">corregir</tspan><tspan x="4" dy="10.6">revisado</tspan><tspan x="4" dy="10.6">notas_adm</tspan><tspan x="4" dy="10.6">notas_adicionales</tspan><tspan x="4" dy="10.6">f_baja</tspan><tspan x="4" dy="10.6">baja</tspan></text></g>
<g id="MED_IMPRESOS" transform="translate(442,1036)"><rect class="bx" width="102" height="255.6"/><path class="rb" d="M102 0V255.6"/><path class="sp" d="M0 15H102"/><text class="t" y="-3">MED_IMPRESOS</text><text class="k" x="4" y="11">id_med_impresos</text><text class="a" x="4" y="26.5">id_academico (FK)<tspan x="4" dy="10.6">autores</tspan><tspan x="4" dy="10.6">titulo_art</tspan><tspan x="4" dy="10.6">medio_nom</tspan><tspan x="4" dy="10.6">seccion_nom</tspan><tspan x="4" dy="10.6">ciudad</tspan><tspan x="4" dy="10.6">d_inicio</tspan><tspan x="4" dy="10.6">m_inicio</tspan><tspan x="4" dy="10.6">a_inicio</tspan><tspan x="4" dy="10.6">epoca</tspan><tspan x="4" dy="10.6">numero</tspan><tspan x="4" dy="10.6">localizacion</tspan><tspan x="4" dy="10.6">f_creacion</tspan><tspan x="4" dy="10.6">f_modificacion</tspan><tspan x="4" dy="10.6">f_revision</tspan><tspan x="4" dy="10.6">revisado</tspan><tspan x="4" dy="10.6">notas_adm</tspan><tspan x="4" dy="10.6">notas_adicionales</tspan><tspan x="4" dy="10.6">corregir</tspan><tspan x="4" dy="10.6">f_baja</tspan><tspan x="4" dy="10.6">baja</tspan><tspan x="4" dy="10.6">pais</tspan></text></g>
<g id="PLANES_ESTUDIO" transform="translate(275,1129)"><rect class="bx" width="107" height="255.6"/><path class="rb" d="M107 0V255.6"/><path class="sp" d="M0 15H107"/><text class="t" y="-3">PLANES_ESTUDIO</text><text class="k" x="4" y="11">id_plan_est</text><text class="a" x="4" y="26.5">id_academico (FK)<tspan x="4" dy="10.6">plan_nom</tspan><tspan x="4" dy="10.6">nivel</tspan><tspan x="4" dy="10.6">institucion</tspan><tspan x="4" dy="10.6">objetivo</tspan><tspan x="4" dy="10.6">tipo_particip</tspan><tspan x="4" dy="10.6">grado_desarrollo</tspan><tspan x="4" dy="10.6">d_inicio</tspan><tspan x="4" dy="10.6">m_inicio</tspan><tspan x="4" dy="10.6">a_inicio</tspan><tspan x="4" dy="10.6">d_fin</tspan><tspan x="4" dy="10.6">m_fin</tspan><tspan x="4" dy="10.6">a_fin</tspan><tspan x="4" dy="10.6">f_creacion</tspan><tspan x="4" dy="10.6">f_modificacion</tspan><tspan x="4" dy="10.6">f_revision</tspan><tspan x="4" dy="10.6">notas_adm</tspan><tspan x="4" dy="10.6">notas_adicionales</tspan><tspan x="4" dy="10.6">revisado</tspan><tspan x="4" dy="10.6">corregir</tspan><tspan x="4" dy="10.6">f_baja</tspan><tspan x="4" dy="10.6">baja</tspan></text></g>
<g id="CONVENIOS_INTER" transform="translate(617,1019)"><rect class="bx" width="125" height="319.2"/><path class="rb" d="M125 0V319.2"/><path class="sp" d="M0 15H125"/><text class="t" y="-3">CONVENIOS_INTER</text><text class="k" x="4" y="11">id_convenios_inter</text><text class="a" x="4" y="26.5">id_academico (FK)<tspan x="4" dy="10.6">titulo_convenio</tspan><tspan x="4" dy="10.6">clave_convenio</tspan><tspan x="4" dy="10.6">institucion</tspan><tspan x="4" dy="10.6">responsable_iimas</tspan><tspan x="4" dy="10.6">responsable_contraparte</tspan><tspan x="4" dy="10.6">objetivo</tspan><tspan x="4" dy="10.6">d_inicio</tspan><tspan x="4" dy="10.6">m_inicio</tspan><tspan x="4" dy="10.6">a_inicio</tspan><tspan x="4" dy="10.6">d_fin</tspan><tspan x="4" dy="10.6">m_fin</tspan><tspan x="4" dy="10.6">a_fin</tspan><tspan x="4" dy="10.6">actividades</tspan><tspan x="4" dy="10.6">aporta_iimas</tspan><tspan x="4" dy="10.6">aporta_contraparte</tspan><tspan x="4" dy="10.6">otrasinstit_nom</tspan><tspan x="4" dy="10.6">aporta_otrasinstit</tspan><tspan x="4" dy="10.6">f_creacion</tspan><tspan x="4" dy="10.6">f_modificacion</tspan><tspan x="4" dy="10.6">f_revision</tspan><tspan x="4" dy="10.6">corregir</tspan><tspan x="4" dy="10.6">revisado</tspan><tspan x="4" dy="10.6">notas_adm</tspan><tspan x="4" dy="10.6">notas_adicionales</tspan><tspan x="4" dy="10.6">f_baja</tspan><tspan x="4" dy="10.6">baja</tspan><tspan x="4" dy="10.6">pais</tspan></text></g>
<g id="CURSO_no_curri" transform="translate(817,1100)"><rect class="bx" width="100" height="245"/><path class="rb" d="M100 0V245"/><path class="sp" d="M0 15H100"/><text class="t" y="-3">CURSO_no_curri</text><text class="k" x="4" y="11">id_curso_no_curri</text><text class="a" x="4" y="26.5">id_academico (FK)<tspan x="4" dy="10.6">nivel</tspan><tspan x="4" dy="10.6">horas_curso</tspan><tspan x="4" dy="10.6">no_alumnos</tspan><tspan x="4" dy="10.6">d_inicio</tspan><tspan x="4" dy="10.6">m_inicio</tspan><tspan x="4" dy="10.6">a_inicio</tspan><tspan x="4" dy="10.6">d_fin</tspan><tspan x="4" dy="10.6">m_fin</tspan><tspan x="4" dy="10.6">a_fin</tspan><tspan x="4" dy="10.6">f_creacion</tspan><tspan x="4" dy="10.6">f_modificacion</tspan><tspan x="4" dy="10.6">f_revision</tspan><tspan x="4" dy="10.6">notas_adm</tspan><tspan x="4" dy="10.6">notas_adicionales</tspan><tspan x="4" dy="10.6">revisado</tspan><tspan x="4" dy="10.6">corregir</tspan><tspan x="4" dy="10.6">institucion</tspan><tspan x="4" dy="10.6">curso_nom</tspan><tspan x="4" dy="10.6">f_baja</tspan><tspan x="4" dy="10.6">baja</tspan></text></g>
<g id="ASESORIA" transform="translate(993,1137)"><rect class="bx" width="111" height="255.6"/><path class="rb" d="M111 0V255.6"/><path class="sp" d="M0 15H111"/><text class="t" y="-3">ASESORIA</text><text class="k" x="4" y="11">id_asesoria</text><text class="a" x="4" y="26.5">id_academico (FK)<tspan x="4" dy="10.6">institucion</tspan><tspan x="4" dy="10.6">ciudad</tspan><tspan x="4" dy="10.6">descripcion_actividad</tspan><tspan x="4" dy="10.6">tipo_actividad</tspan><tspan x="4" dy="10.6">d_inicio</tspan><tspan x="4" dy="10.6">m_inicio</tspan><tspan x="4" dy="10.6">a_inicio</tspan><tspan x="4" dy="10.6">d_fin</tspan><tspan x="4" dy="10.6">m_fin</tspan><tspan x="4" dy="10.6">a_fin</tspan><tspan x="4" dy="10.6">productos_derivados</tspan><tspan x="4" dy="10.6">f_creacion</tspan><tspan x="4" dy="10.6">f_modificacion</tspan><tspan x="4" dy="10.6">f_revision</tspan><tspan x="4" dy="10.6">corregir</tspan><tspan x="4" dy="10.6">revisado</tspan><tspan x="4" dy="10.6">notas_adm</tspan><tspan x="4" dy="10.6">notas_adicionales</tspan><tspan x="4" dy="10.6">f_baja</tspan><tspan x="4" dy="10.6">baja</tspan><tspan x="4" dy="10.6">pais</tspan></text></g>
<g id="CURSO_SEM" transform="translate(1156,1053)"><rect class="bx" width="105" height="234.4"/><path class="rb" d="M105 0V234.4"/><path class="sp" d="M0 15H105"/><text class="t" y="-3">CURSO_SEM</text><text class="k" x="4" y="11">id_curso_sem</text><text class="a" x="4" y="26.5">id_academico (FK)<tspan x="4" dy="10.6">curso_nom</tspan><tspan x="4" dy="10.6">nivel</tspan><tspan x="4" dy="10.6">a_inicio</tspan><tspan x="4" dy="10.6">no_grupos</tspan><tspan x="4" dy="10.6">no_alumnos</tspan><tspan x="4" dy="10.6">institucion</tspan><tspan x="4" dy="10.6">f_creacion</tspan><tspan x="4" dy="10.6">f_modificacion</tspan><tspan x="4" dy="10.6">f_revision</tspan><tspan x="4" dy="10.6">notas_adm</tspan><tspan x="4" dy="10.6">notas_adicionales</tspan><tspan x="4" dy="10.6">revisado</tspan><tspan x="4" dy="10.6">corregir</tspan><tspan x="4" dy="10.6">periodo_esc</tspan><tspan x="4" dy="10.6">m_inicio</tspan><tspan x="4" dy="10.6">m_fin</tspan><tspan x="4" dy="10.6">a_fin</tspan><tspan x="4" dy="10.6">f_baja</tspan><tspan x="4" dy="10.6">baja</tspan></text></g>
<g id="EST_ASOCIADOS" transform="translate(1340,1043)"><rect class="bx" width="102" height="308.6"/><path class="rb" d="M102 0V308.6"/><path class="sp" d="M0 15H102"/><text class="t" y="-3">EST_ASOCIADOS</text><text class="k" x="4" y="11">id_est</text><text class="a" x="4" y="26.5">id_academico (FK)<tspan x="4" dy="10.6">est_nombre</tspan><tspan x="4" dy="10.6">modalidad</tspan><tspan x="4" dy="10.6">nivel</tspan><tspan x="4" dy="10.6">carr_posg</tspan><tspan x="4" dy="10.6">beca</tspan><tspan x="4" dy="10.6">asesor_extran</tspan><tspan x="4" dy="10.6">telefono_ext</tspan><tspan x="4" dy="10.6">mail</tspan><tspan x="4" dy="10.6">institucion</tspan><tspan x="4" dy="10.6">d_inicio</tspan><tspan x="4" dy="10.6">m_inicio</tspan><tspan x="4" dy="10.6">a_inicio</tspan><tspan x="4" dy="10.6">d_fin</tspan><tspan x="4" dy="10.6">m_fin</tspan><tspan x="4" dy="10.6">a_fin</tspan><tspan x="4" dy="10.6">institucion_beca</tspan><tspan x="4" dy="10.6">f_creacion</tspan><tspan x="4" dy="10.6">f_modificacion</tspan><tspan x="4" dy="10.6">f_revision</tspan><tspan x="4" dy="10.6">notas_adm</tspan><tspan x="4" dy="10.6">notas_adicionales</tspan><tspan x="4" dy="10.6">revisado</tspan><tspan x="4" dy="10.6">corregir</tspan><tspan x="4" dy="10.6">periodo_esc</tspan><tspan x="4" dy="10.6">baja</tspan><tspan x="4" dy="10.6">pais</tspan></text></g>
</g>
<g id="connectors">
<path class="c" d="M116 477H489V553H977"/>
<path class="c" d="M116 523H1018.6V466"/>
<path class="c" d="M276 426H985"/>
<path class="c" d="M384 335V443H985"/>
<path class="c" d="M396 335V567H977"/>
<path class="c" d="M579 359V473H995V466"/>
<path class="c" d="M544 359V483H1024V546"/>
<path class="c" d="M741 409V614H977"/>
<path class="c" d="M753 409H863V426"/>
<path class="c" d="M874 312V620H977"/>
<path class="c" d="M1022 351V433"/>
<path class="c" d="M1073 345H1342"/>
<path class="c" d="M1211 298V493H1035V546"/>
<path class="c" d="M1375 373V548H1093"/>
<path class="c" d="M1517 398H1297V437H1082"/>
<path class="c" d="M1577.5 468.4V570H1093"/>
<path class="c" d="M1717.7 315V510H1047V546"/>
<path class="c" d="M1824 425H1468.6V452H1082"/>
<path class="c" d="M1824 398H1696.5V627H1093"/>
<path class="c" d="M1788 559H1093"/>
<path class="c" d="M1622 677H1093"/>
<path class="c" d="M1217 787V684H1093"/>
<path class="c" d="M1394 1026V655H1093"/>
<path class="c" d="M1543 780V643H1093"/>
<path class="c" d="M2081 835V725H1071V695.6"/>
<path class="c" d="M1760 807V758H1088V695.6"/>
<path class="c" d="M1963 998V770H1043.6V695.6"/>
<path class="c" d="M1155 1038V907H1088V758"/>
<path class="c" d="M1075 1120V695.6"/>
<path class="c" d="M1030 807H1063V695.6"/>
<path class="c" d="M867 1084V775H1029V695.6"/>
<path class="c" d="M815 741H1011V695.6"/>
<path class="c" d="M632 722H994V695.6"/>
<path class="c" d="M679 1004V690H977"/>
<path class="c" d="M494 1020V682H977"/>
<path class="c" d="M305 1113V670H977"/>
<path class="c" d="M247 834V650H977"/>
<path class="c" d="M413 718V637H977"/>
<path class="c" d="M215 595H977"/>
<g class="d">
<circle cx="116" cy="477" r="4"/><circle cx="116" cy="523" r="4"/><circle cx="276" cy="426" r="4"/><circle cx="384" cy="335" r="4"/><circle cx="396" cy="335" r="4"/><circle cx="579" cy="359" r="4"/><circle cx="544" cy="359" r="4"/><circle cx="741" cy="409" r="4"/><circle cx="753" cy="409" r="4"/><circle cx="874" cy="312" r="4"/><circle cx="1022" cy="351" r="4"/><circle cx="1342" cy="345" r="4"/><circle cx="1211" cy="298" r="4"/><circle cx="1375" cy="373" r="4"/><circle cx="1517" cy="398" r="4"/><circle cx="1577.5" cy="468.4" r="4"/><circle cx="1717.7" cy="315" r="4"/><circle cx="1824" cy="425" r="4"/><circle cx="1824" cy="398" r="4"/><circle cx="1788" cy="559" r="4"/><circle cx="1093" cy="677" r="4"/><circle cx="1217" cy="787" r="4"/><circle cx="1394" cy="1026" r="4"/><circle cx="1543" cy="780" r="4"/><circle cx="2081" cy="835" r="4"/><circle cx="1760" cy="807" r="4"/><circle cx="1963" cy="998" r="4"/><circle cx="1155" cy="1038" r="4"/><circle cx="1075" cy="1120" r="4"/><circle cx="1030" cy="807" r="4"/><circle cx="867" cy="1084" r="4"/><circle cx="815" cy="741" r="4"/><circle cx="632" cy="722" r="4"/><circle cx="679" cy="1004" r="4"/><circle cx="494" cy="1020" r="4"/><circle cx="305" cy="1113" r="4"/><circle cx="247" cy="834" r="4"/><circle cx="413" cy="718" r="4"/><circle cx="215" cy="595" r="4"/>
</g>
</g>
<text id="pagenum" x="1684" y="1292" font-family="Lato,'Liberation Sans',sans-serif" font-weight="300" font-size="52" fill="#444">42</text>
</svg>
